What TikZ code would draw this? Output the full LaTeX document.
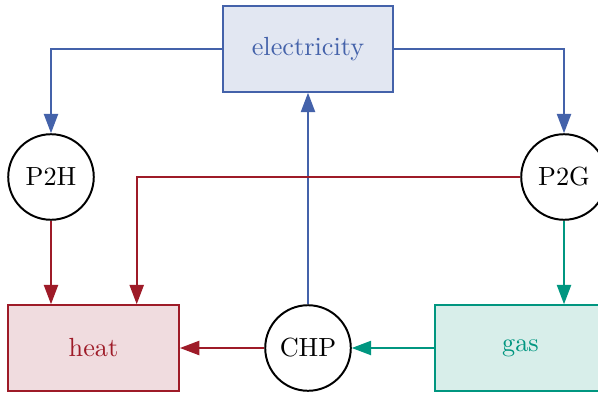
\documentclass[tikz,border=0pt]{standalone}
\usetikzlibrary{arrows.meta,calc}
\definecolor{eblue}{RGB}{68,98,170}
\definecolor{eblueF}{RGB}{226,231,242}
\definecolor{hred}{RGB}{158,27,40}
\definecolor{hredF}{RGB}{240,220,223}
\definecolor{gteal}{RGB}{0,150,128}
\definecolor{gtealF}{RGB}{216,238,234}
\begin{document}
\begin{tikzpicture}[x=0.381pt,y=-0.381pt,
  carrier/.style={draw, rectangle, line width=0.75pt, minimum width=65.1pt, minimum height=32.6pt, inner sep=0pt},
  conv/.style={draw=black, circle, line width=0.75pt, minimum size=32.6pt, inner sep=0pt},
  link/.style={line width=0.75pt, -{Triangle[length=7.4pt,width=5.4pt]}},
]
\useasboundingbox (0,0) rectangle (598,394);
\clip (0,0) rectangle (598,394);
\node[carrier, draw=eblue, fill=eblueF, text=eblue] (elec) at (308,49) {electricity};
\node[carrier, draw=hred, fill=hredF, text=hred] (heat) at (93.5,348) {heat};
\node[carrier, draw=gteal, fill=gtealF, text=gteal] (gas) at (520.5,348) {gas};
\node[conv] (p2h) at (51,177) {P2H};
\node[conv] (p2g) at (564,177) {P2G};
\node[conv] (chp) at (308,348) {CHP};
\coordinate (heatin) at ($(heat.north west)!0.75!(heat.north east)$);
\draw[link, eblue] (elec.west) -| (p2h.north);
\draw[link, eblue] (elec.east) -| (p2g.north);
\draw[link, eblue] (chp.north) -- (elec.south);
\draw[link, hred] (p2h.south) -- (p2h.south |- heat.north);
\draw[link, hred] (p2g.west) -| (heatin);
\draw[link, hred] (chp.west) -- (heat.east);
\draw[link, gteal] (p2g.south) -- (p2g.south |- gas.north);
\draw[link, gteal] (gas.west) -- (chp.east);
\end{tikzpicture}
\end{document}
